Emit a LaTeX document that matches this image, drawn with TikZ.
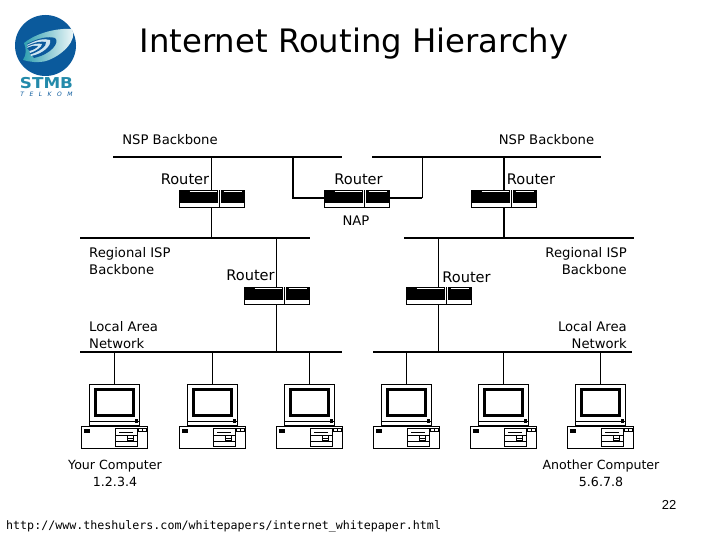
\documentclass[tikz,border=0pt]{standalone}
\usepackage{fontspec}
\setmainfont{DejaVu Sans}
\setmonofont{DejaVu Sans Mono}
\newfontfamily\numfont{Liberation Sans}
\definecolor{logoblue}{HTML}{0B5A9C}
\definecolor{logoteal}{HTML}{2E9FB0}
\definecolor{logopale}{HTML}{CFE6F0}
\begin{document}
\begin{tikzpicture}[
    x=1pt,y=-1pt,
    bus/.style={line width=2pt},
    wire/.style={line width=1pt},
    thickwire/.style={line width=2pt},
    caption/.style={font=\fontsize{13.2}{17}\selectfont,inner sep=0pt},
    routerlabel/.style={font=\fontsize{14.6}{17}\selectfont,inner sep=0pt},
    pclabel/.style={font=\fontsize{12.6}{17}\selectfont,inner sep=0pt,align=center},
    routerbox/.style={draw,fill=white,line width=.8pt,minimum width=65pt,minimum height=17pt,inner sep=0pt},
    monitorbox/.style={draw,fill=white,line width=1pt,minimum width=50pt,minimum height=41pt,inner sep=0pt},
    pics/router/.style={code={
        \node[routerbox] (-box) at (0,0) {};
        \fill (-32.5,-8.5) rectangle (32.5,4.5);
        \fill[white] (6,-8.5) rectangle (9.5,8.5);
        \fill (7.2,-8.5) rectangle (8.2,8.5);
        \draw[white,line width=.6pt] (-22,-7.2) -- (5,-7.2) (12,-7.2) -- (30,-7.2);
    }},
    pics/computer/.style={code={
        % origin is the middle of the monitor
        \node[monitorbox] (-mon) at (0,0) {};
        \draw[line width=3.2pt] (-18.5,-15) rectangle (19.5,11);
        \fill (21,14) rectangle (24,18);
        \draw[line width=.7pt] (-25,17) -- (25,17);
        \draw[line width=.8pt] (-18,20.5) rectangle (19,22.5);
        \node[draw,fill=white,line width=1pt,minimum width=66pt,minimum height=22pt,inner sep=0pt] (-base) at (0.5,33) {};
        \fill (-30,24) rectangle (-24,28);
        \draw[line width=.8pt] (1,24) rectangle (23,42);
        \draw[line width=1.2pt] (5,28) -- (19,28);
        \draw[line width=.7pt] (1,31) -- (23,31) (1,37) -- (23,37);
        \draw[fill=white,line width=.7pt] (13,31) rectangle (19,36);
        \draw[line width=.7pt] (13,33.5) -- (19,33.5);
        \draw[line width=.7pt] (24,24) rectangle (32,27);
        \draw[line width=.7pt] (28,24) -- (28,27);
    }}
]
\useasboundingbox (0,0) rectangle (720,540);

% logo
\fill[logoblue] (45.5,45.5) circle (30.5);
\shade[left color=logoteal,right color=white] (24,43) .. controls (38,32) and (58,28) .. (72,29) .. controls (78,40) and (62,56) .. (46,61) .. controls (38,63) and (30,62) .. (23,60) .. controls (27,54) and (26,48) .. (24,43) -- cycle;
\fill[logoblue] (27,44) .. controls (38,38) and (48,36) .. (55,38) .. controls (60,42) and (52,54) .. (34,58) .. controls (30,54) and (29,48) .. (27,44) -- cycle;
\fill[logopale] (27,45) .. controls (36,40) and (44,38) .. (50,40) .. controls (52,46) and (42,54) .. (31,56) .. controls (30,52) and (29,48) .. (27,45) -- cycle;
\fill[logoblue] (27,46) .. controls (35,42) and (41,41) .. (46,42) .. controls (47,46) and (39,52) .. (30,54.5) .. controls (30,52) and (28,48) .. (27,46) -- cycle;
\fill[logopale] (27,47) .. controls (33,44) and (38,43) .. (42,44) .. controls (42,47) and (36,51) .. (30,53) .. controls (30,51) and (28,49) .. (27,47) -- cycle;
\fill[logoblue] (27,48) .. controls (32,46) and (35,45) .. (38,46) .. controls (37,48) and (33,50) .. (29.5,51) .. controls (29,50) and (28,49) .. (27,48) -- cycle;
\node[inner sep=0pt,text=logoteal!70!logoblue,xscale=1.12,transform shape,font=\fontsize{15}{15}\selectfont\bfseries] (logoname) at (46.5,83) {STMB};
\node[inner sep=0pt,text=logoblue,font=\fontsize{6}{6}\selectfont\itshape] (logosub) at (46.5,94.5) {T\hspace{5.5pt}E\hspace{5.5pt}L\hspace{5.5pt}K\hspace{5.5pt}O\hspace{5.5pt}M};

% title and footer
\node[inner sep=0pt,font=\fontsize{32.3}{36}\selectfont] (title) at (354,44) {Internet Routing Hierarchy};
\node[inner sep=0pt,font=\numfont\fontsize{13}{15}\selectfont] (page) at (669,505) {22};
\node[inner sep=0pt,anchor=west,font=\ttfamily\fontsize{11.65}{14}\selectfont] (url) at (6,526) {http://www.theshulers.com/whitepapers/internet\_whitepaper.html};

% backbones
\coordinate (nspLw) at (113,157);
\coordinate (nspLe) at (342,157);
\coordinate (nspRw) at (372,157);
\coordinate (nspRe) at (601,157);
\coordinate (napL) at (293,157);
\coordinate (napR) at (422,157);
\coordinate (ispLw) at (80,238);
\coordinate (ispLe) at (310,238);
\coordinate (ispRw) at (404,238);
\coordinate (ispRe) at (634,238);
\coordinate (lanLw) at (80,351.5);
\coordinate (lanLe) at (342,351.5);
\coordinate (lanRw) at (373,351.5);
\coordinate (lanRe) at (632,351.5);
\draw[bus] (nspLw) -- (nspLe);
\draw[bus] (nspRw) -- (nspRe);
\draw[bus] (ispLw) -- (ispLe);
\draw[bus] (ispRw) -- (ispRe);
\draw[bus] (lanLw) -- (lanLe);
\draw[bus] (lanRw) -- (lanRe);

% routers
\pic (rtA) at (211.5,198.5) {router};
\pic (rtB) at (356.5,198.5) {router};
\pic (rtC) at (503.5,198.5) {router};
\pic (rtD) at (276.5,295.5) {router};
\pic (rtE) at (438.5,295.5) {router};

\draw[wire] (rtA-box.north) -- (rtA-box.north |- nspLw);
\draw[wire] (rtA-box.south) -- (rtA-box.south |- ispLw);
\draw[thickwire] (rtB-box.west) -| (napL);
\draw[thickwire] (rtB-box.east) -- (rtB-box.east -| napR);
\draw[wire] (rtB-box.east -| napR) -- (napR);
\draw[thickwire] (rtC-box.north) -- (rtC-box.north |- nspRw);
\draw[thickwire] (rtC-box.south) -- (rtC-box.south |- ispRw);
\draw[wire] (rtD-box.north) -- (rtD-box.north |- ispLw);
\draw[wire] (rtD-box.south) -- (rtD-box.south |- lanLw);
\draw[wire] (rtE-box.north) -- (rtE-box.north |- ispRw);
\draw[wire] (rtE-box.south) -- (rtE-box.south |- lanRw);

% computers
\pic (pcA) at (114,404.5) {computer};
\pic (pcB) at (212,404.5) {computer};
\pic (pcC) at (309,404.5) {computer};
\pic (pcD) at (406,404.5) {computer};
\pic (pcE) at (503,404.5) {computer};
\pic (pcF) at (600,404.5) {computer};

\draw[wire] (pcA-mon.north) -- (pcA-mon.north |- lanLw);
\draw[wire] (pcB-mon.north) -- (pcB-mon.north |- lanLw);
\draw[wire] (pcC-mon.north) -- (pcC-mon.north |- lanLw);
\draw[wire] (pcD-mon.north) -- (pcD-mon.north |- lanRw);
\draw[wire] (pcE-mon.north) -- (pcE-mon.north |- lanRw);
\draw[wire] (pcF-mon.north) -- (pcF-mon.north |- lanRw);

% labels
\node[caption] (nspL) at (170,140) {NSP Backbone};
\node[caption] (nspR) at (546.5,140) {NSP Backbone};
\node[routerlabel] (lbA) at (185,179) {Router};
\node[routerlabel] (lbB) at (358.5,179) {Router};
\node[routerlabel] (lbC) at (531,179) {Router};
\node[routerlabel] (lbD) at (250.5,275) {Router};
\node[routerlabel] (lbE) at (466.5,277) {Router};
\node[caption] (nap) at (356,221) {NAP};
\node[caption,anchor=west,align=left] (ispL) at (89,261.5) {Regional ISP\\Backbone};
\node[caption,anchor=east,align=right] (ispR) at (627,261.5) {Regional ISP\\Backbone};
\node[caption,anchor=west,align=left] (lanL) at (89,335) {Local Area\\Network};
\node[caption,anchor=east,align=right] (lanR) at (627,335) {Local Area\\Network};
\node[pclabel] (you) at (115,473.5) {Your Computer\\1.2.3.4};
\node[pclabel] (other) at (601,473.5) {Another Computer\\5.6.7.8};
\end{tikzpicture}
\end{document}
